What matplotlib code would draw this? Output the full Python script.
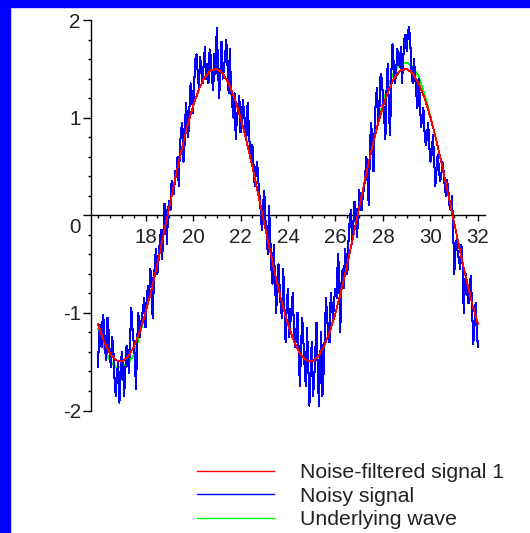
import numpy as np
import matplotlib
matplotlib.use("Agg")
import matplotlib.pyplot as plt
from matplotlib.lines import Line2D
from matplotlib.patches import Rectangle
from matplotlib.ticker import MultipleLocator, FixedLocator, FuncFormatter

plt.rcParams['font.family'] = ['Liberation Sans', 'DejaVu Sans']

# ---- data -------------------------------------------------------------
# smooth curves sampled every 0.25 from 16 to 32
x_smooth = np.linspace(16, 32, 65)
filtered = [
    -1.117, -1.291, -1.415, -1.485, -1.498, -1.453, -1.352, -1.200,
    -1.001, -0.764, -0.497, -0.211, 0.082, 0.373, 0.649, 0.901,
    1.117, 1.291, 1.415, 1.485, 1.498, 1.453, 1.352, 1.200,
    1.001, 0.764, 0.497, 0.211, -0.082, -0.373, -0.649, -0.901,
    -1.117, -1.291, -1.415, -1.485, -1.498, -1.453, -1.352, -1.200,
    -1.001, -0.764, -0.497, -0.211, 0.082, 0.373, 0.649, 0.901,
    1.117, 1.291, 1.415, 1.485, 1.498, 1.453, 1.352, 1.200,
    1.001, 0.764, 0.497, 0.211, -0.082, -0.373, -0.649, -0.901,
    -1.117,
]
wave = [
    -1.160, -1.360, -1.490, -1.550, -1.560, -1.520, -1.440, -1.230,
    -1.001, -0.764, -0.497, -0.211, 0.082, 0.373, 0.649, 0.901,
    1.117, 1.291, 1.415, 1.485, 1.498, 1.453, 1.352, 1.200,
    1.001, 0.764, 0.497, 0.211, -0.082, -0.373, -0.649, -0.901,
    -1.117, -1.291, -1.415, -1.485, -1.498, -1.453, -1.352, -1.200,
    -1.001, -0.764, -0.497, -0.211, 0.082, 0.373, 0.649, 0.901,
    1.160, 1.350, 1.480, 1.550, 1.565, 1.520, 1.420, 1.240,
    1.010, 0.764, 0.497, 0.211, -0.082, -0.373, -0.649, -0.901,
    -1.117,
]
# noisy samples at x = 16.0, 16.1, ..., 32.0
noisy_on_tenths = [
    -1.55, -1.12, -1.02, -1.38, -1.05, -1.45, -1.25, -1.70, -1.62, -1.92,   # 16.0
    -1.40, -1.85, -1.34, -1.62, -0.95, -1.30, -1.78, -1.00, -1.12, -0.95,   # 17.0
    -1.15, -0.72, -0.55, -1.05, -0.45, -0.60, -0.28, -0.45, 0.12, -0.30,    # 18.0
    0.15, 0.35, 0.22, 0.42, 0.30, 0.88, 0.55, 1.15, 0.80, 1.35,             # 19.0
    1.05, 1.60, 1.45, 1.62, 1.35, 1.72, 1.55, 1.70, 1.40, 1.65,             # 20.0
    1.92, 1.20, 1.78, 1.50, 1.80, 1.25, 1.30, 1.00, 0.78, 1.10,             # 21.0
    0.85, 1.18, 0.90, 1.15, 0.65, 0.72, 0.30, 0.55, 0.20, -0.15,            # 22.0
    0.25, -0.20, 0.10, -0.55, -0.30, -1.00, -0.50, -0.95, -0.55, -1.30,     # 23.0
    -0.75, -1.10, -0.80, -1.35, -1.00, -1.75, -1.05, -1.55, -1.15, -1.95,   # 24.0
    -1.30, -1.70, -1.10, -1.95, -1.20, -1.60, -0.85, -1.25, -0.80, -1.05,   # 25.0
    -0.75, -0.40, -1.20, -0.55, -0.35, -0.60, -0.05, -0.30, 0.14, -0.22,    # 26.0
    0.26, 0.05, 0.28, 0.60, 0.10, 0.95, 0.45, 1.20, 0.95, 1.45,             # 27.0
    1.20, 0.78, 1.55, 0.82, 1.75, 1.35, 1.70, 1.52, 1.35, 1.80,             # 28.0
    1.68, 1.93, 1.50, 1.60, 1.25, 1.40, 0.90, 1.10, 0.72, 0.95,             # 29.0
    0.55, 0.82, 0.30, 0.62, 0.35, 0.55, 0.30, 0.36, 0.10, 0.20,             # 30.0
    -0.60, -0.25, -0.45, -0.30, -1.00, -0.60, -0.90, -0.62, -1.32, -0.90,   # 31.0
    -1.35,                                                                   # 32.0
]
# noisy samples at x = 16.05, 16.15, ..., 31.95
noisy_between = [
    -1.20, -1.35, -1.10, -1.48, -1.20, -1.55, -1.40, -1.85, -1.50, -1.65,   # 16.x5
    -1.55, -1.60, -1.38, -1.30, -1.15, -1.45, -1.30, -1.25, -1.05, -0.85,   # 17.x5
    -0.90, -0.85, -0.62, -0.70, -0.35, -0.45, -0.15, -0.20, 0.05, 0.05,     # 18.x5
    0.05, 0.30, 0.45, 0.60, 0.70, 0.95, 0.75, 1.00, 1.10, 1.25,             # 19.x5
    1.35, 1.65, 1.30, 1.50, 1.55, 1.40, 1.35, 1.62, 1.28, 1.45,             # 20.x5
    1.55, 1.45, 1.40, 1.62, 1.55, 1.70, 1.15, 1.25, 1.00, 1.22,             # 21.x5
    0.95, 1.05, 0.80, 0.90, 0.55, 0.50, 0.45, 0.35, 0.05, 0.10,             # 22.x5
    -0.05, -0.40, -0.20, -0.70, -0.65, -0.75, -0.75, -1.05, -0.95, -0.90,   # 23.x5
    -1.25, -0.95, -1.15, -1.20, -1.40, -1.35, -1.30, -1.75, -1.50, -1.60,   # 24.x5
    -1.85, -1.40, -1.55, -1.50, -1.85, -1.20, -1.05, -1.30, -0.95, -0.85,   # 25.x5
    -0.85, -0.55, -0.70, -0.75, -0.45, -0.25, 0.05, -0.10, 0.05, -0.05,     # 26.x5
    0.10, 0.20, 0.40, 0.35, 0.70, 0.75, 0.90, 1.30, 1.10, 1.40,             # 27.x5
    1.00, 1.30, 1.05, 1.45, 1.55, 1.45, 1.65, 1.72, 1.60, 1.85,             # 28.x5
    1.88, 1.75, 1.35, 1.45, 1.10, 1.20, 1.00, 0.85, 0.80, 0.70,             # 29.x5
    0.62, 0.60, 0.45, 0.50, 0.40, 0.45, 0.20, 0.25, 0.05, -0.10,            # 30.x5
    -0.35, -0.40, -0.55, -0.50, -0.70, -0.80, -0.70, -0.95, -1.10, -1.20,   # 31.x5
]
labels = ["Noise-filtered signal 1", "Noisy signal", "Underlying wave"]
colors = ["#ff0000", "#0000ff", "#00ff00"]
x_ticks_major = [18, 20, 22, 24, 26, 28, 30, 32]
y_ticks_major = [-2, -1, 0, 1, 2]

# interleave the two noisy sample sets on the 0.05 grid
x_noisy = np.linspace(16, 32, 321)
noisy = np.empty(321)
noisy[0::2] = noisy_on_tenths
noisy[1::2] = noisy_between

# ---- figure -----------------------------------------------------------
W, H = 530, 533
fig = plt.figure(figsize=(W / 100, H / 100), dpi=100)
fig.patch.set_facecolor("white")

# blue frame (top and left bands)
fig.add_artist(Rectangle((0, 1 - 7 / H), 1, 7 / H, transform=fig.transFigure,
                         color="#0000ff", zorder=0))
fig.add_artist(Rectangle((0, 0), 10 / W, 1, transform=fig.transFigure,
                         color="#0000ff", zorder=0))

ax_left, ax_right = 90.5, 485
ax_top, ax_bot = 20, 410.5
ax = fig.add_axes([ax_left / W, 1 - ax_bot / H, (ax_right - ax_left) / W, (ax_bot - ax_top) / H])
ax.set_facecolor("none")

px_per_unit = 23.75
x0 = 16 - (98 - ax_left) / px_per_unit
x1 = 16 + (ax_right - 98) / px_per_unit
ax.set_xlim(x0, x1)
ax.set_ylim(-2, 2)

ax.plot(x_smooth, wave, color=colors[2], lw=0.6, zorder=3, antialiased=False)
ax.plot(x_noisy, noisy, color=colors[1], lw=0.75, zorder=4, antialiased=False)
ax.plot(x_smooth, filtered, color=colors[0], lw=0.6, zorder=5, antialiased=False)

for s in ["top", "right"]:
    ax.spines[s].set_visible(False)
ax.spines["bottom"].set_position(("data", 0))
ax.spines["left"].set_position(("data", x0))
for s in ["bottom", "left"]:
    ax.spines[s].set_linewidth(1.0)
    ax.spines[s].set_color("black")
    ax.spines[s].set_zorder(2)

ax.xaxis.set_major_locator(FixedLocator(x_ticks_major))
ax.xaxis.set_minor_locator(MultipleLocator(0.5))
ax.yaxis.set_major_locator(FixedLocator(y_ticks_major))
ax.yaxis.set_minor_locator(MultipleLocator(0.2))
ax.yaxis.set_major_formatter(FuncFormatter(lambda v, p: "" if v == 0 else f"{v:g}"))

ax.tick_params(axis="x", which="major", direction="out", length=4.5, width=1.0,
               pad=5, labelsize=14.8, colors="black", labelcolor="#222222")
ax.tick_params(axis="x", which="minor", direction="out", length=2.5, width=1.0)
ax.tick_params(axis="y", which="major", direction="out", length=5.5, width=1.0,
               pad=1.5, labelsize=14.8, colors="black", labelcolor="#222222")
ax.tick_params(axis="y", which="minor", direction="out", length=2.5, width=1.0)

ax.annotate("0", xy=(0, 0), xycoords=("axes fraction", "data"),
            xytext=(-9.5, -12.5), textcoords="offset pixels",
            ha="right", va="center", fontsize=14.8, color="#222222")

# legend below plot
rows_y = [471, 494, 517.5]
for lab, col, yy in zip(labels, colors, rows_y):
    fig.add_artist(Line2D([196.7 / W, 274 / W], [1 - yy / H, 1 - yy / H],
                          color=col, lw=1.0, transform=fig.transFigure))
    fig.text(300 / W, 1 - (yy + 7.5) / H, lab, ha="left", va="baseline",
             fontsize=15.3, color="#222222")

fig.savefig("out.png", dpi=100, facecolor="white")
